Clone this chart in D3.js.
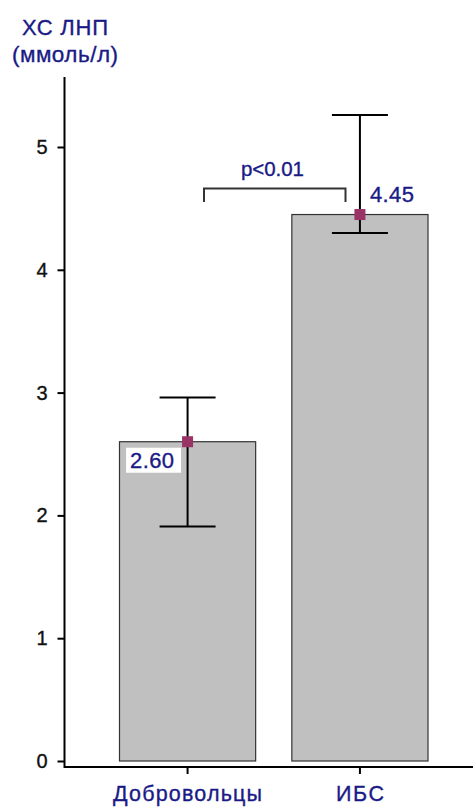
<!DOCTYPE html>
<html>
<head>
<meta charset="utf-8">
<script src="https://cdn.jsdelivr.net/npm/d3@7"></script>
<style>
  html, body { margin: 0; padding: 0; background: #fff; }
  svg { display: block; }
</style>
</head>
<body>
<svg id="chart" width="473" height="810"></svg>
<script>
// Groups and mean LDL cholesterol with asymmetric error bounds
const categories = ["Добровольцы", "ИБС"];
const means = [2.60, 4.45];
const upperBounds = [2.96, 5.26];
const lowerBounds = [1.91, 4.30];
const meanLabels = ["2.60", "4.45"];
const yTicks = [0, 1, 2, 3, 4, 5];
const yTitle = ["ХС ЛНП", "(ммоль/л)"];
const pLabel = "p<0.01";

const svg = d3.select("#chart");
const FONT = "'Liberation Sans', Arial, sans-serif";
const NAVY = "#1a1a86";

// Slightly heavier text, like GDI-rendered Arial
function heavy(sel, color) {
  sel.attr("stroke", color).attr("stroke-width", 0.35).attr("paint-order", "stroke");
}

const axisX = 64.5, axisBottom = 767;

const y = d3.scaleLinear().domain([0, 5.57]).range([761, 77]);
const x = d3.scaleBand().domain(categories)
  .range([101.4, 446.1]).paddingInner(0.21).paddingOuter(0.105);

// Bars
svg.append("g").selectAll("rect")
  .data(categories)
  .join("rect")
  .attr("x", d => x(d))
  .attr("y", (d, i) => y(means[i]))
  .attr("width", x.bandwidth())
  .attr("height", (d, i) => y(0) - y(means[i]))
  .attr("fill", "#c0c0c0")
  .attr("stroke", "#333")
  .attr("stroke-width", 1.2);

// Y axis
const yAxis = svg.append("g")
  .attr("transform", `translate(${axisX},0)`)
  .call(d3.axisLeft(y).tickValues(yTicks).tickSize(7).tickPadding(10).tickFormat(d3.format("d")));
yAxis.select(".domain").remove();
yAxis.selectAll(".tick line").attr("stroke", "#000").attr("stroke-width", 2);
yAxis.selectAll(".tick text")
  .attr("font-family", FONT).attr("font-size", 20).attr("fill", "#111")
  .call(heavy, "#111");

svg.append("line")
  .attr("x1", axisX).attr("x2", axisX)
  .attr("y1", y.range()[1]).attr("y2", axisBottom + 1)
  .attr("stroke", "#000").attr("stroke-width", 2);

// X axis (sits just below the zero line)
const catWidths = [149, 48];
const xAxis = svg.append("g")
  .attr("transform", `translate(0,${axisBottom})`)
  .call(d3.axisBottom(x).tickSize(7).tickPadding(12).tickSizeOuter(0));
xAxis.select(".domain").attr("d", `M${axisX},0H473`).attr("stroke", "#000").attr("stroke-width", 2);
xAxis.selectAll(".tick line").attr("stroke", "#000").attr("stroke-width", 2);
xAxis.selectAll(".tick text")
  .attr("font-family", FONT).attr("font-size", 21.5).attr("fill", NAVY)
  .attr("textLength", (d, i) => catWidths[i]).attr("lengthAdjust", "spacing")
  .call(heavy, NAVY);

// Error bars
const cx = d => x(d) + x.bandwidth() / 2;
const capHalf = 28;
const eb = svg.append("g").attr("stroke", "#000").attr("stroke-width", 2);
categories.forEach((c, i) => {
  eb.append("line").attr("x1", cx(c)).attr("x2", cx(c))
    .attr("y1", y(upperBounds[i])).attr("y2", y(lowerBounds[i]));
  eb.append("line").attr("x1", cx(c) - capHalf).attr("x2", cx(c) + capHalf)
    .attr("y1", y(upperBounds[i])).attr("y2", y(upperBounds[i]));
  eb.append("line").attr("x1", cx(c) - capHalf).attr("x2", cx(c) + capHalf)
    .attr("y1", y(lowerBounds[i])).attr("y2", y(lowerBounds[i]));
});

// Mean markers
svg.append("g").selectAll("rect")
  .data(categories)
  .join("rect")
  .attr("x", d => cx(d) - 5.5)
  .attr("y", (d, i) => y(means[i]) - 5.5)
  .attr("width", 11).attr("height", 11)
  .attr("fill", "#993366");

// Mean value labels
const lbl0 = svg.append("g");
lbl0.append("rect")
  .attr("x", cx(categories[0]) - 61.5).attr("y", y(means[0]) + 6)
  .attr("width", 55).attr("height", 25).attr("fill", "#fff");
lbl0.append("text")
  .attr("x", cx(categories[0]) - 57.5).attr("y", y(means[0]) + 26)
  .attr("font-family", FONT).attr("font-size", 22).attr("fill", NAVY)
  .attr("textLength", 44).attr("lengthAdjust", "spacing")
  .call(heavy, NAVY)
  .text(meanLabels[0]);

svg.append("text")
  .attr("x", cx(categories[1]) + 10).attr("y", y(means[1]) - 13)
  .attr("font-family", FONT).attr("font-size", 22).attr("fill", NAVY)
  .attr("textLength", 44).attr("lengthAdjust", "spacing")
  .call(heavy, NAVY)
  .text(meanLabels[1]);

// Significance bracket
svg.append("path")
  .attr("d", "M204,202V188.5H345.5V202")
  .attr("fill", "none").attr("stroke", "#333").attr("stroke-width", 2);
svg.append("text")
  .attr("x", 241).attr("y", 176)
  .attr("font-family", FONT).attr("font-size", 20.5).attr("fill", NAVY)
  .attr("textLength", 63).attr("lengthAdjust", "spacing")
  .call(heavy, NAVY)
  .text(pLabel);

// Y axis title
const titleWidths = [86, 106];
svg.append("g").selectAll("text")
  .data(yTitle)
  .join("text")
  .attr("x", (d, i) => axisX - titleWidths[i] / 2 + 0.5)
  .attr("y", (d, i) => 35 + i * 27)
  .attr("font-family", FONT).attr("font-size", (d, i) => i ? 22.5 : 22).attr("fill", NAVY)
  .attr("textLength", (d, i) => titleWidths[i]).attr("lengthAdjust", "spacing")
  .call(heavy, NAVY)
  .text(d => d);
</script>
</body>
</html>
